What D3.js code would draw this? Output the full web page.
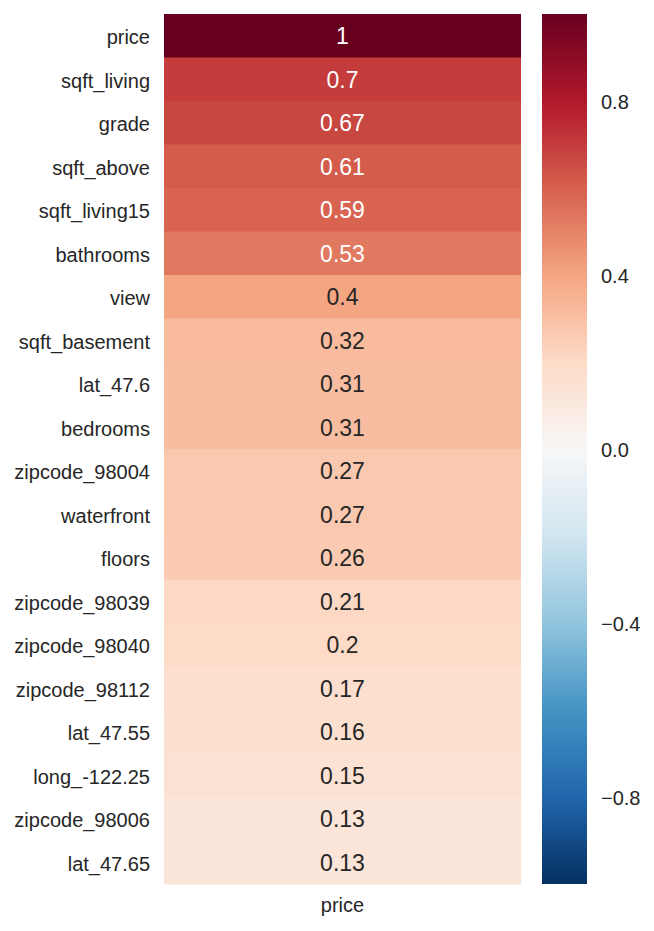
<!DOCTYPE html>
<html>
<head>
<meta charset="utf-8">
<script src="https://cdn.jsdelivr.net/npm/d3@7"></script>
<style>
  html, body { margin: 0; padding: 0; background: #fff; }
  text { font-family: "Liberation Sans", Arial, sans-serif; }
</style>
</head>
<body>
<svg id="chart" width="654" height="931"></svg>
<script>
const rowLabels = ["price","sqft_living","grade","sqft_above","sqft_living15","bathrooms","view","sqft_basement","lat_47.6","bedrooms","zipcode_98004","waterfront","floors","zipcode_98039","zipcode_98040","zipcode_98112","lat_47.55","long_-122.25","zipcode_98006","lat_47.65"];
const colLabels = ["price"];
const values = [1, 0.70, 0.67, 0.61, 0.59, 0.53, 0.40, 0.32, 0.31, 0.31, 0.27, 0.27, 0.26, 0.21, 0.20, 0.17, 0.16, 0.15, 0.13, 0.13];
const annotLabels = ["1","0.7","0.67","0.61","0.59","0.53","0.4","0.32","0.31","0.31","0.27","0.27","0.26","0.21","0.2","0.17","0.16","0.15","0.13","0.13"];
const cbarTicks = [0.8, 0.4, 0.0, -0.4, -0.8];
const cbarTickLabels = ["0.8","0.4","0.0","\u22120.4","\u22120.8"];

(function () {
const rdbu = ["#67001f","#b2182b","#d6604d","#f4a582","#fddbc7","#f7f7f7","#d1e5f0","#92c5de","#4393c3","#2166ac","#053061"];
const color = d3.scaleLinear()
  .domain(d3.range(11).map(i => 1 - i * 0.2))
  .range(rdbu)
  .interpolate(d3.interpolateRgb);

const svg = d3.select("#chart");
const L = 164, R = 521, T = 14, B = 884;
const fs = 20, fsAnnot = 23;

const y = d3.scaleBand().domain(rowLabels).range([T, B]).padding(0);
const x = d3.scaleBand().domain(colLabels).range([L, R]).padding(0);

function lum(c) {
  const rgb = d3.rgb(c);
  const f = v => { v /= 255; return v <= 0.03928 ? v / 12.92 : Math.pow((v + 0.055) / 1.055, 2.4); };
  return 0.2126 * f(rgb.r) + 0.7152 * f(rgb.g) + 0.0722 * f(rgb.b);
}

const rows = svg.append("g");
rows.selectAll("rect").data(values).join("rect")
  .attr("x", x("price"))
  .attr("y", (d, i) => y(rowLabels[i]))
  .attr("width", x.bandwidth())
  .attr("height", y.bandwidth() + 0.5)
  .attr("fill", d => color(d));

rows.selectAll("text").data(values).join("text")
  .attr("x", x("price") + x.bandwidth() / 2)
  .attr("y", (d, i) => y(rowLabels[i]) + y.bandwidth() / 2)
  .attr("dy", "0.37em")
  .attr("text-anchor", "middle")
  .attr("font-size", fsAnnot)
  .attr("fill", d => lum(color(d)) < 0.408 ? "#ffffff" : "#262626")
  .text((d, i) => annotLabels[i]);

const yAxis = svg.append("g").attr("transform", `translate(${L},0)`)
  .call(d3.axisLeft(y).tickSize(0).tickPadding(14));
yAxis.select(".domain").remove();
yAxis.selectAll("text").attr("font-size", fs).attr("fill", "#262626")
  .attr("dy", "0.42em")
  .attr("font-family", "Liberation Sans, Arial, sans-serif");

const xAxis = svg.append("g").attr("transform", `translate(0,${B})`)
  .call(d3.axisBottom(x).tickSize(0).tickPadding(14));
xAxis.select(".domain").remove();
xAxis.selectAll("text").attr("font-size", fs).attr("fill", "#262626")
  .attr("font-family", "Liberation Sans, Arial, sans-serif");

const cbLeft = 542, cbRight = 587;
const cy = d3.scaleLinear().domain([-1, 1]).range([B, T]);
const defs = svg.append("defs");
const grad = defs.append("linearGradient").attr("id", "cbgrad")
  .attr("x1", 0).attr("y1", 1).attr("x2", 0).attr("y2", 0);
d3.range(0, 1.0001, 0.05).forEach(t => {
  grad.append("stop").attr("offset", t).attr("stop-color", color(-1 + 2 * t));
});
svg.append("rect")
  .attr("x", cbLeft).attr("y", T)
  .attr("width", cbRight - cbLeft).attr("height", B - T)
  .attr("fill", "url(#cbgrad)");

const cAxis = svg.append("g").attr("transform", `translate(${cbRight},0)`)
  .call(d3.axisRight(cy).tickValues(cbarTicks).tickFormat((d, i) => cbarTickLabels[i]).tickSize(0).tickPadding(14));
cAxis.select(".domain").remove();
cAxis.selectAll("text").attr("font-size", fs).attr("fill", "#262626")
  .attr("dy", "0.38em")
  .attr("font-family", "Liberation Sans, Arial, sans-serif");
})();
</script>
</body>
</html>
